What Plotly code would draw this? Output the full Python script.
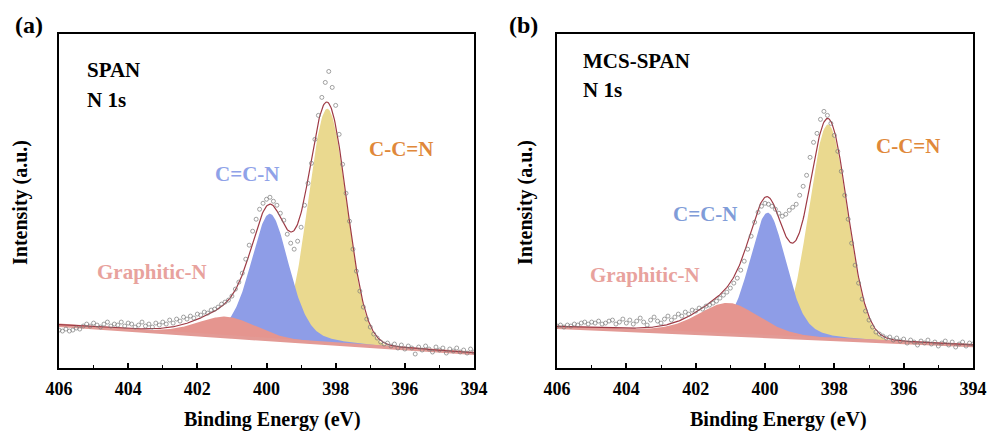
import numpy as np
import plotly.graph_objects as go

# ---- measured N 1s spectra (binding energy grid, 0.1 eV step) ----
energy = np.round(np.arange(406.0, 393.95, -0.1), 1)

span_counts = [
    37, 36, 38, 36, 37, 39, 38, 41, 43, 41,
    44, 42, 40, 43, 45, 41, 43, 42, 45, 41,
    44, 43, 40, 42, 45, 41, 43, 40, 44, 42,
    45, 43, 47, 44, 48, 46, 50, 48, 51, 49,
    53, 52, 55, 54, 57, 58, 60, 63, 65, 67,
    71, 78, 85, 94, 108, 122, 136, 148, 158, 164,
    168, 170, 166, 162, 154, 147, 133, 124, 118, 126,
    140, 162, 184, 204, 228, 252, 270, 285, 296, 280,
    262, 233, 203, 174, 146, 118, 96, 76, 60, 48,
    40, 33, 29, 25, 23, 24, 21, 23, 19, 22,
    18, 21, 19, 13, 20, 17, 21, 18, 15, 20,
    17, 19, 14, 18, 16, 19, 15, 17, 14, 18,
    15,
]

mcs_counts = [
    41, 42, 40, 42, 41, 43, 42, 44, 45, 43,
    45, 44, 46, 43, 44, 46, 47, 43, 45, 48,
    44, 47, 43, 46, 49, 45, 42, 47, 50, 46,
    44, 48, 51, 47, 50, 53, 51, 55, 53, 57,
    56, 59, 58, 61, 62, 64, 66, 69, 72, 75,
    79, 84, 89, 97, 106, 118, 131, 145, 155, 161,
    164, 163, 161, 158, 154, 151, 153, 157, 160, 163,
    172, 181, 192, 210, 225, 234, 248, 256, 252, 244,
    232, 216, 196, 172, 148, 124, 102, 84, 68, 56,
    47, 40, 35, 33, 31, 29, 30, 27, 29, 26,
    28, 24, 27, 25, 22, 26, 24, 27, 23, 25,
    21, 24, 26, 22, 25, 20, 23, 25, 21, 24,
    23,
]

# ---- peak-fit results: (centre eV, height, FWHM eV, Lorentzian fraction) ----
span_fit = {
    "C-C=N": (398.24, 235, 1.30, 0.0),
    "C=C-N": (399.90, 126, 1.30, 0.3),
    "Graphitic-N": (401.15, 20, 2.00, 0.3),
}
mcs_fit = {
    "C-C=N": (398.18, 215, 1.30, 0.0),
    "C=C-N": (399.92, 124, 1.25, 0.3),
    "Graphitic-N": (401.05, 32, 2.10, 0.35),
}
# linear background end points (value at 406 eV, value at 394 eV)
span_bg = (41.7, 13.7)
mcs_bg = (39.8, 21.5)

fill_colors = {"C-C=N": "#EAD98F", "C=C-N": "#8E9DE7", "Graphitic-N": "#E5958F"}
label_colors = {"C-C=N": "#E0883A", "Graphitic-N": "#E8A29D"}

SERIF = "Liberation Serif, Times New Roman, serif"
W, H = 991, 439


def gl(x, c, h, w, m):
    u = (x - c) / w
    return h * ((1 - m) * np.exp(-4 * np.log(2) * u * u) + m / (1 + 4 * u * u))


fig = go.Figure()
fine = np.linspace(406.0, 394.0, 601)

panels = [
    (span_counts, span_fit, span_bg, "x", "y"),
    (mcs_counts, mcs_fit, mcs_bg, "x2", "y2"),
]
for counts, fit, bg_ends, xa, ya in panels:
    hi, lo = bg_ends
    bg = lo + (hi - lo) * (fine - 394.0) / 12.0
    total = bg.copy()
    for name in ["C-C=N", "C=C-N", "Graphitic-N"]:
        comp = gl(fine, *fit[name])
        total = total + comp
        fig.add_trace(go.Scatter(
            x=np.concatenate([fine, fine[::-1]]),
            y=np.concatenate([bg + comp, bg[::-1]]),
            fill="toself", fillcolor=fill_colors[name],
            line=dict(width=0), mode="lines", hoverinfo="skip",
            xaxis=xa, yaxis=ya, showlegend=False))
    fig.add_trace(go.Scatter(x=fine, y=bg, mode="lines",
                             line=dict(color="#E39A95", width=3.5),
                             xaxis=xa, yaxis=ya, showlegend=False))
    fig.add_trace(go.Scatter(x=fine, y=total, mode="lines",
                             line=dict(color="#9E3A45", width=1.2),
                             xaxis=xa, yaxis=ya, showlegend=False))
    fig.add_trace(go.Scatter(x=energy, y=counts, mode="markers",
                             marker=dict(symbol="circle-open", size=4,
                                         color="#7A7A7A",
                                         line=dict(width=0.7, color="#7A7A7A")),
                             xaxis=xa, yaxis=ya, showlegend=False))

xaxis_style = dict(
    range=[406, 394], dtick=2, tick0=394, ticks="inside", ticklen=5,
    tickwidth=1.5, tickcolor="black", showline=True, linecolor="black",
    linewidth=1.5, mirror=True, showgrid=False, zeroline=False,
    tickfont=dict(family=SERIF, size=18, color="black"),
    tickprefix="<b>", ticksuffix="</b>",
    ticklabelstandoff=4, automargin=False,
    minor=dict(dtick=1, ticks="inside", ticklen=3, tickwidth=1.2,
               tickcolor="black", showgrid=False),
)
yaxis_style = dict(
    range=[-0.5, 333.5], showticklabels=False, ticks="", showline=True,
    linecolor="black", linewidth=1.5, mirror=True, showgrid=False,
    zeroline=False, automargin=False,
)
y_dom = [1 - 367.5 / H, 1 - 34 / H]
fig.update_layout(
    width=W, height=H, autosize=False,
    margin=dict(l=0, r=0, t=0, b=0, pad=0),
    paper_bgcolor="white", plot_bgcolor="white",
    font=dict(family=SERIF),
    xaxis=dict(domain=[59 / W, 474 / W], anchor="y", **xaxis_style),
    yaxis=dict(domain=y_dom, anchor="x", **yaxis_style),
    xaxis2=dict(domain=[557 / W, 973 / W], anchor="y2", **xaxis_style),
    yaxis2=dict(domain=y_dom, anchor="x2", **yaxis_style),
)


def note(text, px, py, size, color="black", xanchor="center", angle=0):
    fig.add_annotation(text=f"<b>{text}</b>", x=px / W, y=1 - py / H,
                       xref="paper", yref="paper", xanchor=xanchor,
                       yanchor="middle", showarrow=False, textangle=angle,
                       font=dict(family=SERIF, size=size, color=color))


# panel (a)
note("(a)", 29, 25, 24)
note("SPAN", 85, 70, 21, xanchor="left")
note("N 1s", 85, 100, 21, xanchor="left")
note("C=C-N", 247, 174, 21, "#8FA2E8")
note("C-C=N", 401, 149, 21, label_colors["C-C=N"])
note("Graphitic-N", 152, 272, 21, label_colors["Graphitic-N"])
note("Binding Energy (eV)", 272, 419, 20)
note("Intensity (a.u.)", 20, 203, 20, angle=-90)

# panel (b)
note("(b)", 523, 25, 24)
note("MCS-SPAN", 581, 61, 21, xanchor="left")
note("N 1s", 581, 90, 21, xanchor="left")
note("C=C-N", 705, 214, 21, "#809CD8")
note("C-C=N", 908, 146, 21, label_colors["C-C=N"])
note("Graphitic-N", 645, 275, 21, label_colors["Graphitic-N"])
note("Binding Energy (eV)", 778, 419, 20)
note("Intensity (a.u.)", 525, 203, 20, angle=-90)

fig.write_html("out.html")
